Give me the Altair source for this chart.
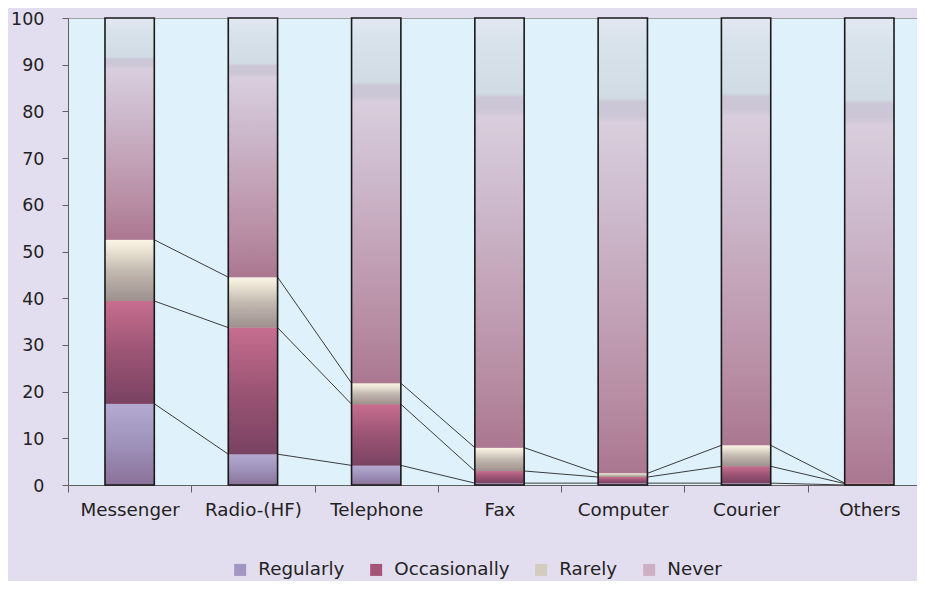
import altair as alt
import pandas as pd

categories = ["Messenger", "Radio-(HF)", "Telephone", "Fax", "Computer", "Courier", "Others"]
series = ["Regularly", "Occasionally", "Rarely", "Never"]
regularly = [17.4, 6.6, 4.2, 0.4, 0.4, 0.4, 0.0]
occasionally = [22.0, 27.1, 13.1, 2.6, 1.3, 3.6, 0.3]
rarely = [13.1, 10.8, 4.5, 5.0, 0.8, 4.5, 0.1]
never = [47.5, 55.5, 78.2, 92.0, 97.5, 91.5, 99.6]
y_ticks = [0, 10, 20, 30, 40, 50, 60, 70, 80, 90, 100]

values = {"Regularly": regularly, "Occasionally": occasionally, "Rarely": rarely, "Never": never}

rows = []
tops = {s: [] for s in series}
for i, c in enumerate(categories):
    base = 0.0
    for s in series:
        v = values[s][i]
        rows.append({"cat": c, "series": s, "y0": base, "y1": base + v})
        base += v
        tops[s].append(base)
df = pd.DataFrame(rows)

tot = pd.DataFrame({"cat": categories,
                    "y0": [0.0] * len(categories),
                    "y1": [tops["Never"][i] for i in range(len(categories))]})

lines = []
for s in series[:3]:
    for i in range(len(categories) - 1):
        lines.append({"cat": categories[i], "nxt": categories[i + 1],
                      "ya": tops[s][i], "yb": tops[s][i + 1], "series": s})
ldf = pd.DataFrame(lines)

FONT = "DejaVu Sans"
FS = 18.3

xscale = alt.Scale(domain=categories, paddingInner=0, paddingOuter=0)
yscale = alt.Scale(domain=[0, 100], nice=False, zero=True)

def vgrad(stops):
    return alt.LinearGradient(
        gradient="linear", x1=0, x2=0, y1=1, y2=0,
        stops=[alt.GradientStop(offset=o, color=c) for o, c in stops])

grads = {
    "Regularly": vgrad([(0, "#8B7198"), (0.5, "#9E92BB"), (1, "#B4AAD0")]),
    "Occasionally": vgrad([(0, "#7A4262"), (0.5, "#9B5474"), (1, "#C76E8F")]),
    "Rarely": vgrad([(0, "#9D908D"), (0.5, "#C3BAB1"), (0.85, "#EDE6D6"), (1, "#FAF5E6")]),
    "Never": vgrad([(0, "#AB7791"), (0.16, "#B78DA3"), (0.37, "#C3A3B8"), (0.58, "#CDBBCD"),
                    (0.77, "#D9CEDD"), (0.785, "#CCC7D6"), (0.815, "#CCC7D6"), (0.825, "#D1DBE3"),
                    (0.94, "#D7E2EA"), (1, "#E3E8F2")]),
}

x_enc = alt.X("cat:N", scale=xscale, sort=categories,
              axis=alt.Axis(title=None, labelAngle=0, tickBand="extent", labelAlign="center",
                            labelFontSize=FS, labelFont=FONT, labelColor="#222222",
                            domainColor="#606060", tickColor="#606060", tickSize=7,
                            labelPadding=18, domainWidth=1))
y_enc = alt.Y("y0:Q", scale=yscale,
              axis=alt.Axis(title=None, values=y_ticks, grid=False, tickSize=6, labelPadding=18,
                            labelFontSize=17.5, labelFont=FONT, labelColor="#222222",
                            domainColor="#606060", tickColor="#606060", labelOffset=1,
                            domainWidth=1))

base_bars = alt.Chart(df).mark_bar(width=alt.RelativeBandSize(0.4)).encode(
    x=x_enc,
    y=y_enc,
    y2="y1:Q",
    color=alt.Color("series:N", sort=series,
                    scale=alt.Scale(domain=series,
                                    range=["#A396C0", "#A55475", "#D3CBBE", "#CDB0C4"]),
                    legend=alt.Legend(title=None, orient="none", legendX=163, legendY=542.5,
                                      direction="horizontal", symbolType="square",
                                      symbolSize=144, symbolStrokeWidth=0, labelFontSize=FS,
                                      labelFont=FONT, labelColor="#222222", columnPadding=22,
                                      labelOffset=9)),
)

grad_layers = []
for s in series:
    grad_layers.append(
        alt.Chart(df).transform_filter(alt.datum.series == s)
        .mark_bar(width=alt.RelativeBandSize(0.4), color=grads[s])
        .encode(x=alt.X("cat:N", scale=xscale, sort=categories),
                y=alt.Y("y0:Q", scale=yscale), y2="y1:Q")
    )

outline = alt.Chart(tot).mark_bar(width=alt.RelativeBandSize(0.4), fillOpacity=0,
                                  stroke="#1A1A1A", strokeWidth=1.6).encode(
    x=alt.X("cat:N", scale=xscale, sort=categories),
    y=alt.Y("y0:Q", scale=yscale), y2="y1:Q")

series_lines = alt.Chart(ldf).mark_rule(color="#3C3C3C", strokeWidth=1).encode(
    x=alt.X("cat:N", scale=xscale, sort=categories, bandPosition=0.7),
    x2=alt.X2("nxt:N", bandPosition=0.3),
    y=alt.Y("ya:Q", scale=yscale),
    y2="yb:Q",
)

chart = alt.layer(series_lines, base_bars, *grad_layers, outline).properties(
    width=863, height=467,
    background="#E2DEF0",
    padding={"left": 60, "top": 10, "right": -14, "bottom": 96},
    autosize=alt.AutoSizeParams(type="none"),
).configure_view(fill="#DFF1FA", stroke="#A0A0A0", strokeWidth=1)

chart.save("out.html", embed_options={"renderer": "svg", "actions": False})
